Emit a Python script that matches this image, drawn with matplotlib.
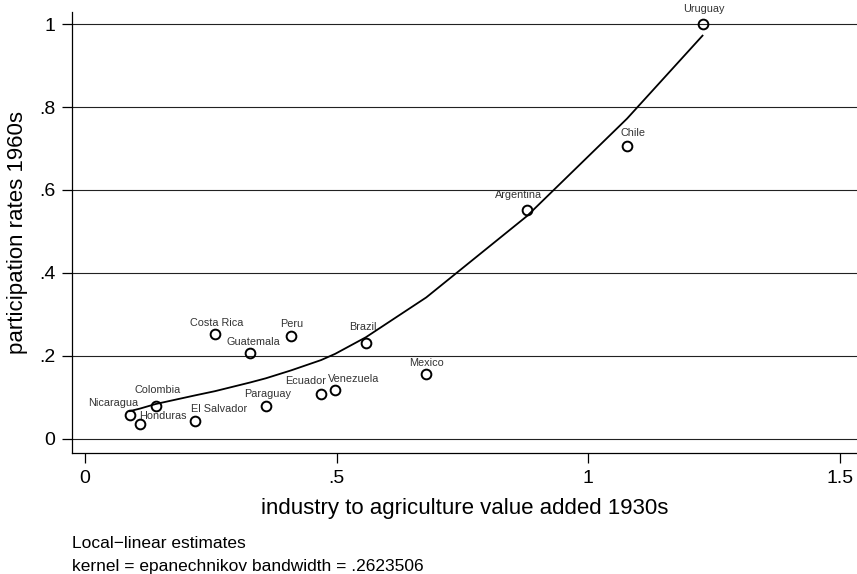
import matplotlib
matplotlib.use("Agg")
import matplotlib.pyplot as plt

plt.rcParams['font.family'] = ['Liberation Sans', 'DejaVu Sans']

# Country observations
countries = ["Nicaragua", "Honduras", "Colombia", "El Salvador", "Costa Rica",
             "Guatemala", "Paraguay", "Peru", "Ecuador", "Venezuela",
             "Brazil", "Mexico", "Argentina", "Chile", "Uruguay"]
ind_agr = [0.089, 0.109, 0.140, 0.219, 0.258, 0.328, 0.359, 0.409, 0.469,
           0.497, 0.558, 0.678, 0.878, 1.077, 1.227]
participation = [0.058, 0.036, 0.080, 0.043, 0.252, 0.206, 0.080, 0.248,
                 0.109, 0.118, 0.231, 0.156, 0.552, 0.707, 1.000]

# Local-linear smooth evaluated at the observed x values
fit_x = ind_agr
fit_y = [0.067, 0.073, 0.084, 0.105, 0.115, 0.136, 0.146, 0.165, 0.190,
         0.205, 0.245, 0.341, 0.537, 0.772, 0.972]

x_ticks = [0, 0.5, 1, 1.5]
x_ticklabels = ["0", ".5", "1", "1.5"]
y_ticks = [0, 0.2, 0.4, 0.6, 0.8, 1.0]
y_ticklabels = ["0", ".2", ".4", ".6", ".8", "1"]

# Label offsets in pixels relative to each marker
label_offsets = {
    "Nicaragua": (-17, 12), "Honduras": (23, 8), "Colombia": (2, 16),
    "El Salvador": (24, 12), "Costa Rica": (2, 11), "Guatemala": (3, 11),
    "Paraguay": (2, 12), "Peru": (1, 12), "Ecuador": (-16, 13),
    "Venezuela": (18, 11), "Brazil": (-3, 16), "Mexico": (0, 11),
    "Argentina": (-8, 15), "Chile": (6, 13), "Uruguay": (1, 15),
}

fig = plt.figure(figsize=(8.57, 5.74), dpi=100)
ax = fig.add_axes([72 / 857, 1 - 453 / 574, 1 - 72 / 857, (453 - 12) / 574])

ax.set_xlim(-0.026, 1.534)
ax.set_ylim(-0.034, 1.029)

for yv in y_ticks:
    ax.axhline(yv, color="#222222", lw=0.8, zorder=1)

ax.plot(fit_x, fit_y, color="black", lw=1.3, zorder=2)
ax.plot(ind_agr, participation, linestyle="none", marker="o", markersize=7,
        markerfacecolor="none", markeredgecolor="black", markeredgewidth=1.4,
        zorder=3)

for name, xv, yv in zip(countries, ind_agr, participation):
    dx, dy = label_offsets[name]
    ax.annotate(name, (xv, yv), xytext=(dx, dy), textcoords="offset pixels",
                ha="center", va="center", fontsize=7.8, color="#333333")

ax.spines["top"].set_visible(False)
ax.spines["right"].set_visible(False)
for s in ("left", "bottom"):
    ax.spines[s].set_linewidth(0.9)

ax.set_xticks(x_ticks)
ax.set_xticklabels(x_ticklabels)
ax.set_yticks(y_ticks)
ax.set_yticklabels(y_ticklabels)
ax.tick_params(axis="both", direction="out", length=7, width=0.9,
               labelsize=14, pad=5)

ax.set_xlabel("industry to agriculture value added 1930s", fontsize=16,
              labelpad=8)
ax.set_ylabel("participation rates 1960s", fontsize=16, labelpad=8)

fig.text(72 / 857, 1 - 543 / 574, "Local\u2212linear estimates",
         fontsize=12.5, va="center", ha="left")
fig.text(72 / 857, 1 - 566 / 574,
         "kernel = epanechnikov bandwidth = .2623506",
         fontsize=12.5, va="center", ha="left")

fig.savefig("out.png", dpi=100)
